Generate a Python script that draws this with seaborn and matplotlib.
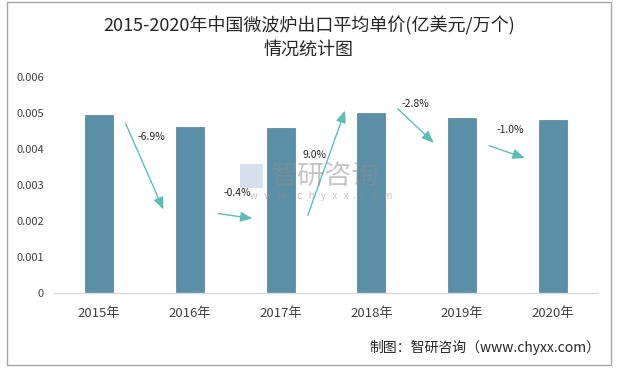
import matplotlib
matplotlib.use("Agg")
import matplotlib.pyplot as plt
import seaborn as sns
import pandas as pd
from matplotlib.patches import Rectangle

years = ["2015年", "2016年", "2017年", "2018年", "2019年", "2020年"]
prices = [0.00493, 0.00459, 0.00457, 0.00498, 0.00484, 0.00479]
growth = ["-6.9%", "-0.4%", "9.0%", "-2.8%", "-1.0%"]
yticks = [0, 0.001, 0.002, 0.003, 0.004, 0.005, 0.006]
ytick_labels = ["0", "0.001", "0.002", "0.003", "0.004", "0.005", "0.006"]

# arrow layout (category units / value units): start, end, label position
arrow_start = [(0.28, 0.00477), (1.28, 0.00222), (2.29, 0.00209), (3.27, 0.00516), (4.27, 0.00411)]
arrow_end = [(0.72, 0.00225), (1.72, 0.00206), (2.72, 0.00513), (3.71, 0.00411), (4.72, 0.00372)]
label_pos = [(0.58, 0.00433), (1.52, 0.00278), (2.37, 0.00382), (3.48, 0.00524), (4.53, 0.00452)]

sns.set_theme(style="white")
plt.rcParams["font.family"] = ["Noto Sans CJK SC", "DejaVu Sans"]

df = pd.DataFrame({"year": years, "price": prices})

fig = plt.figure(figsize=(6.18, 3.68), dpi=100)
ax = fig.add_axes([0.087, 0.203, 0.881, 0.589])

sns.barplot(data=df, x="year", y="price", color="#5B8FA7", saturation=1,
            width=0.31, edgecolor="#4F7F96", linewidth=0.5, ax=ax)

ax.set_ylim(0, 0.006)
ax.set_xlim(-0.5, 5.5)
ax.set_yticks(yticks)
ax.set_yticklabels(ytick_labels, fontsize=8, color="#404040")
ax.tick_params(axis="x", labelsize=9.5, colors="#404040", length=0, pad=10)
ax.tick_params(axis="y", length=0, pad=7)
ax.set_xlabel("")
ax.set_ylabel("")
for s in ["left", "right", "top"]:
    ax.spines[s].set_visible(False)
ax.spines["bottom"].set_color("#D9D9D9")
ax.spines["bottom"].set_linewidth(1)

# watermark (drawn on top, semi-transparent)
fig.add_artist(Rectangle((0.389, 0.490), 0.036, 0.064, transform=fig.transFigure,
                         facecolor="#BFCBE2", alpha=0.6, edgecolor="none", zorder=5))
fig.text(0.438, 0.522, "智研咨询", fontsize=19.5, color="#8C8C8C", alpha=0.5,
         ha="left", va="center", zorder=5)
fig.text(0.405, 0.467, "w   w   w  .  c   h   y   x   x  .  c   o   m", fontsize=7,
         color="#8C8C8C", alpha=0.5, ha="left", va="center", zorder=5)

for (x0, y0), (x1, y1), (lx, ly), g in zip(arrow_start, arrow_end, label_pos, growth):
    ax.annotate("", xy=(x1, y1), xytext=(x0, y0),
                arrowprops=dict(arrowstyle="-|>,head_length=0.6,head_width=0.25",
                                color="#5CBDB5", lw=1))
    ax.text(lx, ly, g, fontsize=7.5, color="#262626", ha="center", va="center")

fig.text(0.5, 0.93, "2015-2020年中国微波炉出口平均单价(亿美元/万个)",
         fontsize=13, color="#262626", ha="center", va="center")
fig.text(0.5, 0.865, "情况统计图", fontsize=13, color="#262626",
         ha="center", va="center")
fig.text(0.972, 0.055, "制图：智研咨询（www.chyxx.com）", fontsize=10,
         color="#262626", ha="right", va="center")

fig.add_artist(Rectangle((0.011, 0.008), 0.978, 0.986, transform=fig.transFigure,
                         fill=False, edgecolor="#A6A6A6", lw=1))

fig.savefig("out.png", dpi=100)
